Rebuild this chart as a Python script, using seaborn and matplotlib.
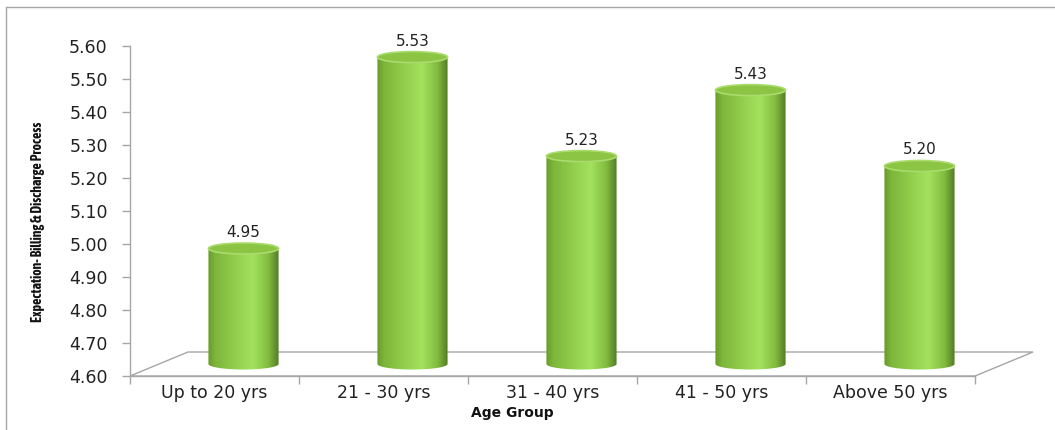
import numpy as np
import matplotlib
matplotlib.use("Agg")
import matplotlib.pyplot as plt
import matplotlib.transforms as mtransforms
from matplotlib.patches import Ellipse, Polygon
from matplotlib.lines import Line2D
from matplotlib.colors import LinearSegmentedColormap
import seaborn as sns
import pandas as pd

# Data
age_groups = ["Up to 20 yrs", "21 - 30 yrs", "31 - 40 yrs", "41 - 50 yrs", "Above 50 yrs"]
expectation = [4.95, 5.53, 5.23, 5.43, 5.20]
y_ticks = [4.60, 4.70, 4.80, 4.90, 5.00, 5.10, 5.20, 5.30, 5.40, 5.50, 5.60]

sns.set_style("white")
plt.rcParams["font.family"] = ["DejaVu Sans"]

W, H, DPI = 1055, 430, 100
fig = plt.figure(figsize=(W / DPI, H / DPI), dpi=DPI)
ax_l, ax_r, ax_t, ax_b = 130, 975, 46, 376
ax = fig.add_axes([ax_l / W, 1 - ax_b / H, (ax_r - ax_l) / W, (ax_b - ax_t) / H])

df = pd.DataFrame({"group": age_groups, "value": expectation})
sns.barplot(data=df, x="group", y="value", width=0.415, color="#8dc63f", ax=ax)

y0, y1 = y_ticks[0], y_ticks[-1]
ax.set_ylim(y0, y1)
ax.set_xlim(-0.5, len(age_groups) - 0.5)
ax.set_yticks(y_ticks)
ax.set_yticklabels([f"{t:.2f}" for t in y_ticks])
ax.set_xticks(np.arange(len(age_groups)))
ax.set_xticklabels(age_groups)
ax.set_xlabel("")
ax.set_ylabel("")
ax.patch.set_alpha(0)

# Grey front-plane axes with outward tick marks
grey = "#a6a6a6"
for s in ["top", "right"]:
    ax.spines[s].set_visible(False)
for s in ["left", "bottom"]:
    ax.spines[s].set_color(grey)
    ax.spines[s].set_linewidth(1.0)
ax.tick_params(axis="y", which="major", length=6, width=1, color=grey, left=True,
               labelsize=12.5, labelcolor="#222222", pad=10)
ax.tick_params(axis="x", which="major", length=0, labelsize=12.5, labelcolor="#222222", pad=6)
ax.set_xticks(np.arange(-0.5, len(age_groups)), minor=True)
ax.tick_params(axis="x", which="minor", length=6, width=1, color=grey, bottom=True)

# Depth offsets (inches) for the pseudo-3D floor and cylinders
depth_dx, depth_dy = 0.58, 0.24
T_mid = ax.transData + mtransforms.ScaledTranslation(depth_dx / 2, depth_dy / 2, fig.dpi_scale_trans)

# Floor
disp = ax.transData.transform([(-0.5, y0), (len(age_groups) - 0.5, y0)])
off = np.array([depth_dx * DPI, depth_dy * DPI])
fl, fr = disp[0], disp[1]
bl, br = fl + off, fr + off
ident = mtransforms.IdentityTransform()
floor = Polygon([fl, bl, br, fr], closed=True, facecolor="white", edgecolor=grey,
                linewidth=1.0, transform=ident, zorder=-1)
fig.add_artist(floor)

# Cylinder side shading
side_cmap = LinearSegmentedColormap.from_list(
    "cyl", [(0.0, "#679a2b"), (0.1, "#7db63a"), (0.45, "#97d451"), (0.63, "#a4e25e"),
            (0.85, "#83bc40"), (1.0, "#527c24")])
grad = np.linspace(0, 1, 256).reshape(1, -1)
grad = np.vstack([grad, grad])

ax_h_px = ax_b - ax_t
ell_h = 11 / ax_h_px * (y1 - y0)

for bar, val in zip(ax.patches, expectation):
    x0 = bar.get_x()
    w = bar.get_width()
    xc = x0 + w / 2
    bar.set_visible(False)

    t = np.linspace(0, -np.pi, 60)
    outline = np.column_stack([xc + (w / 2) * np.cos(t), y0 + (ell_h / 2) * np.sin(t)])
    outline = np.vstack([outline, [[x0, val], [x0 + w, val]]])
    clip = Polygon(outline, closed=True, transform=T_mid, facecolor="none", edgecolor="none")
    ax.add_patch(clip)
    im = ax.imshow(grad, cmap=side_cmap, aspect="auto", interpolation="bilinear",
                   extent=(x0, x0 + w, y0 - ell_h, val), transform=T_mid, zorder=3)
    im.set_clip_path(clip)

    top = Ellipse((xc, val), w, ell_h, transform=T_mid, facecolor="#8cc443",
                  edgecolor="#a9dc6c", linewidth=1.2, zorder=4)
    ax.add_patch(top)

    ax.annotate(f"{val:.2f}", xy=(xc, val), xycoords=T_mid, xytext=(0, 16),
                textcoords="offset pixels", ha="center", va="center", fontsize=11,
                color="#222222", zorder=5, annotation_clip=False)

ax.set_ylim(y0, y1)

# Axis titles
fig.text(38 / W, 1 - 222 / H, "Expectation- Billing & Discharge Process", rotation=90,
         ha="center", va="center", fontsize=10, fontweight="bold",
         family=["Asap Condensed", "Archivo Narrow", "DejaVu Sans"], color="#111111")
fig.text(512 / W, 1 - 413 / H, "Age Group", ha="center", va="center",
         fontsize=10, fontweight="bold", color="#111111")

# Chart-area frame
fig.add_artist(Line2D([6 / W, 6 / W], [0, 1 - 7 / H], transform=fig.transFigure,
                      color=grey, linewidth=1.0))
fig.add_artist(Line2D([6 / W, 1], [1 - 7 / H, 1 - 7 / H], transform=fig.transFigure,
                      color=grey, linewidth=1.0))

fig.savefig("out.png", dpi=DPI)
